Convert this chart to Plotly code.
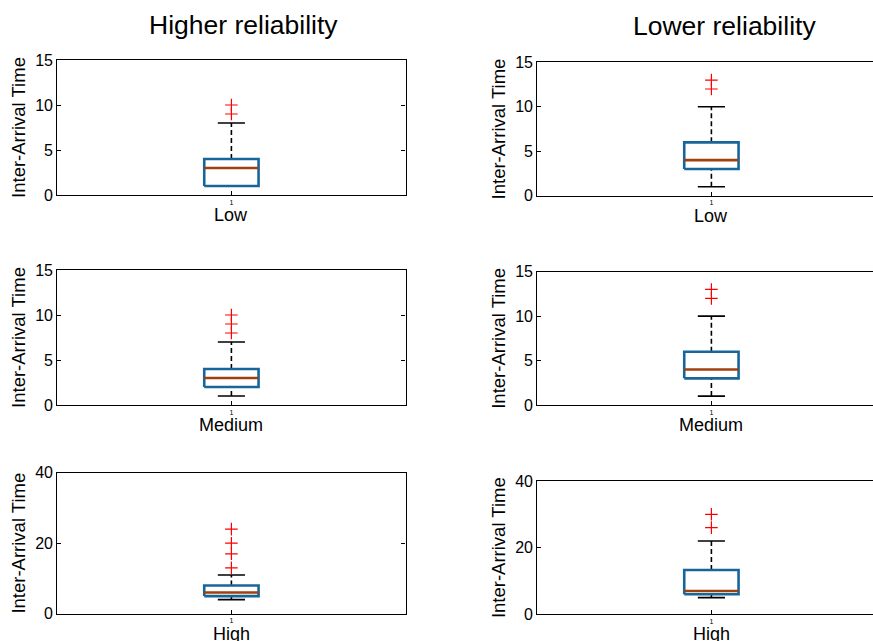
import plotly.graph_objects as go

# ---------------- data ----------------
categories = ["Low", "Medium", "High"]
column_titles = ["Higher reliability", "Lower reliability"]
y_label = "Inter-Arrival Time"

hr_q1 = [1, 2, 5]
hr_median = [3, 3, 6]
hr_q3 = [4, 4, 8]
hr_lower = [1, 1, 4]
hr_upper = [8, 7, 11]
hr_outliers = [[9, 10], [8, 9, 10], [13, 17, 20, 24]]

lr_q1 = [3, 3, 6]
lr_median = [4, 4, 7]
lr_q3 = [6, 6, 13.3]
lr_lower = [1, 1, 5]
lr_upper = [10, 10, 22]
lr_outliers = [[12, 13], [12, 13], [26, 30]]

y_max = [15, 15, 40]
y_dtick = [5, 5, 20]

# ---------------- style ----------------
W, H = 873, 641
BOX_COLOR = "#17669A"
MED_COLOR = "#A0400E"
BOX_W = 0.156
CAP_W = 0.078
FONT = "Liberation Sans, Arial, Helvetica, sans-serif"

# pixel geometry of the panels (left, right, top, bottom)
left_px = (57.3, 405.5)
right_px = (537.3, 873.0)
rows_left = [(60, 195), (270, 405), (472.7, 613.7)]
rows_right = [(62.3, 195.7), (271.7, 405), (481, 614.3)]
XTITLE_GAP = 20  # px from axis line to centre of category label
PX_PER_UNIT = 348.2

fig = go.Figure()

stats = [
    (hr_q1, hr_median, hr_q3, hr_lower, hr_upper, hr_outliers),
    (lr_q1, lr_median, lr_q3, lr_lower, lr_upper, lr_outliers),
]

layout = {}
annotations = [
    dict(text=column_titles[0], x=243 / W, y=1 - 25 / H, xref="paper", yref="paper",
         xanchor="center", yanchor="middle", showarrow=False, font=dict(size=26.5, color="black")),
    dict(text=column_titles[1], x=724.5 / W, y=1 - 26.5 / H, xref="paper", yref="paper",
         xanchor="center", yanchor="middle", showarrow=False, font=dict(size=26.5, color="black")),
]
idx = 0
for r in range(3):
    for c in range(2):
        idx += 1
        xa = "x" if idx == 1 else f"x{idx}"
        ya = "y" if idx == 1 else f"y{idx}"
        q1, med, q3, lo, hi, outl = stats[c]
        ctr = 1
        # whiskers (dashed)
        for a, b in ((q3[r], hi[r]), (lo[r], q1[r])):
            fig.add_trace(go.Scatter(x=[ctr, ctr], y=[a, b], mode="lines",
                                     line=dict(color="black", width=1.6, dash="5px,3px"),
                                     xaxis=xa, yaxis=ya, showlegend=False, hoverinfo="skip"))
        # caps
        for v in (hi[r], lo[r]):
            fig.add_trace(go.Scatter(x=[ctr - CAP_W / 2, ctr + CAP_W / 2], y=[v, v], mode="lines",
                                     line=dict(color="black", width=1.6),
                                     xaxis=xa, yaxis=ya, showlegend=False, hoverinfo="skip"))
        # box
        x0, x1 = ctr - BOX_W / 2, ctr + BOX_W / 2
        fig.add_trace(go.Scatter(x=[x0, x1, x1, x0, x0],
                                 y=[q1[r], q1[r], q3[r], q3[r], q1[r]], mode="lines",
                                 line=dict(color=BOX_COLOR, width=2.6),
                                 xaxis=xa, yaxis=ya, showlegend=False, name=categories[r]))
        # median
        fig.add_trace(go.Scatter(x=[x0, x1], y=[med[r], med[r]], mode="lines",
                                 line=dict(color=MED_COLOR, width=2.6),
                                 xaxis=xa, yaxis=ya, showlegend=False, hoverinfo="skip"))
        # outliers
        fig.add_trace(go.Scatter(x=[ctr] * len(outl[r]), y=outl[r], mode="markers",
                                 marker=dict(symbol="cross-thin", size=9,
                                             line=dict(color="red", width=1.2)),
                                 xaxis=xa, yaxis=ya, showlegend=False))

        lpx = left_px if c == 0 else right_px
        tp, bp = (rows_left if c == 0 else rows_right)[r]
        xrange = [0.5, 0.5 + (lpx[1] - lpx[0]) / PX_PER_UNIT]
        layout["xaxis" if idx == 1 else f"xaxis{idx}"] = dict(
            domain=[lpx[0] / W, lpx[1] / W], anchor=ya, range=xrange, automargin=False,
            tickvals=[1], ticktext=["1"], tickfont=dict(size=7, color="black"),
            ticks="inside", ticklen=4, tickcolor="black",
            showline=True, linecolor="black", linewidth=1.3, mirror=True,
            showgrid=False, zeroline=False, fixedrange=True,
        )
        layout["yaxis" if idx == 1 else f"yaxis{idx}"] = dict(
            domain=[1 - bp / H, 1 - tp / H], anchor=xa, range=[0, y_max[r]], automargin=False,
            dtick=y_dtick[r], tickfont=dict(size=16, color="black"),
            ticks="inside", ticklen=4, tickcolor="black",
            showline=True, linecolor="black", linewidth=1.3,
            mirror=("ticks" if c == 0 else False),
            showgrid=False, zeroline=False, fixedrange=True,
            title=dict(text=y_label, font=dict(size=18.5, color="black"), standoff=4),
        )
        # category label under each panel (x-axis title)
        annotations.append(dict(
            text=categories[r], x=1, xref=xa, y=1 - (bp + XTITLE_GAP) / H, yref="paper",
            xanchor="center", yanchor="middle", showarrow=False,
            font=dict(size=18, color="black")))

fig.update_layout(
    width=W, height=H, margin=dict(l=0, r=0, t=0, b=0, autoexpand=False),
    paper_bgcolor="white", plot_bgcolor="white",
    font=dict(family=FONT, color="black"),
    annotations=annotations, showlegend=False,
    **layout,
)

fig.write_html("out.html")
